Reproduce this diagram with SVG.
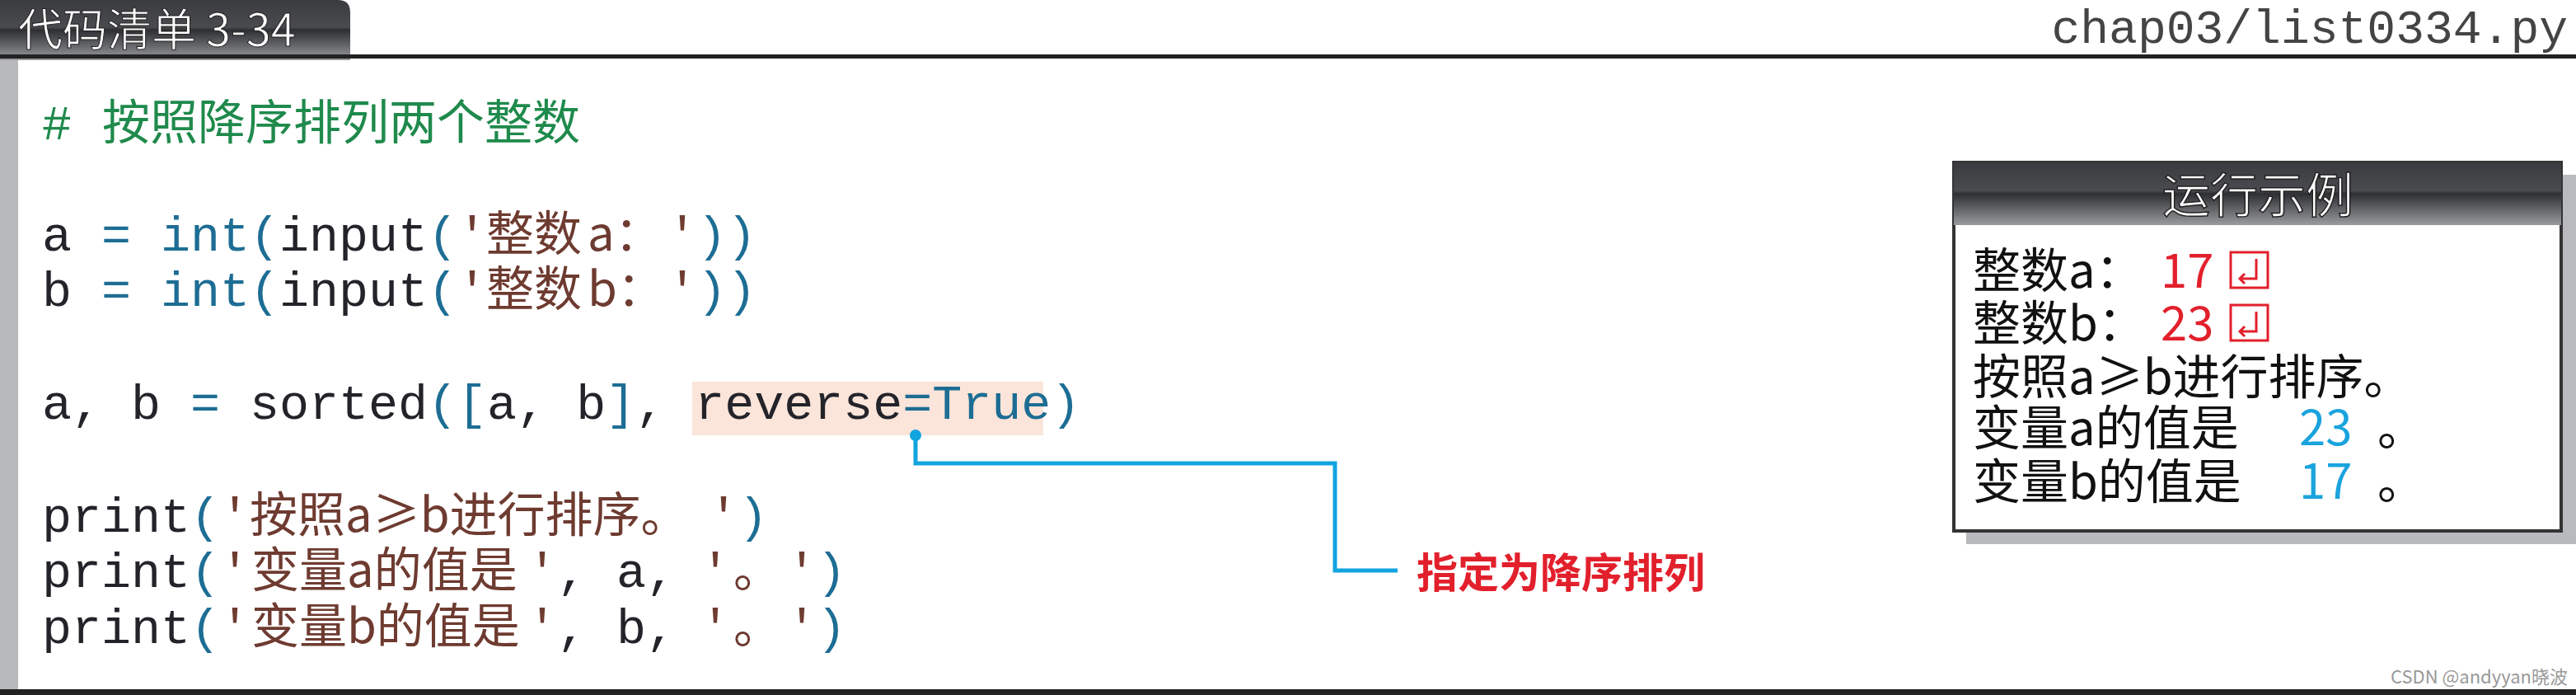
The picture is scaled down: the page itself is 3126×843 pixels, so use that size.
<svg xmlns="http://www.w3.org/2000/svg" width="3126" height="843" viewBox="0 0 3126 843">
<defs>
<linearGradient id="tab" x1="0" y1="0" x2="0" y2="1">
<stop offset="0" stop-color="#3a3b3e"/><stop offset="0.45" stop-color="#4a4b4f"/><stop offset="0.5" stop-color="#2e2f32"/><stop offset="1" stop-color="#9a9b9e"/>
</linearGradient>
<style>
.m{font-family:"Liberation Mono","Noto Sans CJK SC",monospace;font-size:60px}
.c{font-family:"Noto Sans CJK SC",sans-serif;font-size:58px}
.k{fill:#23232a}.t{fill:#1d6d94}.s{fill:#6e3b30}.g{fill:#1f8a4c}
.o{font-family:"Noto Sans CJK SC",sans-serif;font-size:58px;fill:#111}
</style>
</defs>
<rect width="3126" height="843" fill="#fff"/>
<g id="header">
<path d="M0 0H410Q425 0 425 15V73H0Z" fill="url(#tab)"/>
<text x="22" y="56" font-family="Noto Sans CJK SC,sans-serif" font-size="54" fill="#fff" stroke="#222" stroke-width="1">代码清单 3-34</text>
<text x="3116" y="52" text-anchor="end" font-family="Liberation Mono,monospace" font-size="58" fill="#444">chap03/list0334.py</text>
<rect x="0" y="66" width="3126" height="5" fill="#222"/>
<rect x="0" y="73" width="22" height="765" fill="#b8b9bc"/>
<rect x="0" y="836" width="3126" height="7" fill="#222"/>
</g>
<g id="code">
<rect x="840" y="463" width="426" height="65" fill="#fbe4d9"/>
<text class="m g" x="51" y="169">#</text>
<text class="c g" x="124" y="169" font-size="59">按照降序排列两个整数</text>

<text class="m" y="304"><tspan class="k" x="51">a</tspan><tspan class="t" x="123">=</tspan><tspan class="t" x="195">int(</tspan><tspan class="k">input</tspan><tspan class="t">(</tspan><tspan class="s">'</tspan></text>
<text class="c s" y="304"><tspan x="590">整数</tspan><tspan x="713">a：</tspan></text>
<text class="m" y="304"><tspan class="s" x="810">'</tspan><tspan class="t" x="846">))</tspan></text>

<text class="m" y="371"><tspan class="k" x="51">b</tspan><tspan class="t" x="123">=</tspan><tspan class="t" x="195">int(</tspan><tspan class="k">input</tspan><tspan class="t">(</tspan><tspan class="s">'</tspan></text>
<text class="c s" y="371"><tspan x="590">整数</tspan><tspan x="713">b：</tspan></text>
<text class="m" y="371"><tspan class="s" x="810">'</tspan><tspan class="t" x="846">))</tspan></text>

<text class="m" y="508" xml:space="preserve"><tspan class="k" x="51">a, b </tspan><tspan class="t">=</tspan><tspan class="k"> sorted</tspan><tspan class="t">([</tspan><tspan class="k">a, b</tspan><tspan class="t">]</tspan><tspan class="k">, reverse</tspan><tspan class="t">=True)</tspan></text>

<text class="m" y="645"><tspan class="k" x="51">print</tspan><tspan class="t">(</tspan><tspan class="s">'</tspan><tspan class="s" x="860">'</tspan><tspan class="t">)</tspan></text>
<text class="c s" y="645"><tspan x="303">按照a≥b进行排序。</tspan></text>

<text class="m" y="712"><tspan class="k" x="51">print</tspan><tspan class="t">(</tspan><tspan class="s">'</tspan><tspan class="s" x="640">'</tspan><tspan class="k">,</tspan><tspan class="k" x="748">a,</tspan><tspan class="s" x="850">'</tspan><tspan class="s" x="955">'</tspan><tspan class="t">)</tspan></text>
<text class="c s" y="712"><tspan x="305">变量a的值是</tspan><tspan x="890">。</tspan></text>

<text class="m" y="780"><tspan class="k" x="51">print</tspan><tspan class="t">(</tspan><tspan class="s">'</tspan><tspan class="s" x="640">'</tspan><tspan class="k">,</tspan><tspan class="k" x="748">b,</tspan><tspan class="s" x="850">'</tspan><tspan class="s" x="955">'</tspan><tspan class="t">)</tspan></text>
<text class="c s" y="780"><tspan x="305">变量b的值是</tspan><tspan x="890">。</tspan></text>
</g>
<g id="connectors">
<circle cx="1111" cy="528" r="7" fill="#12a4e0"/>
<path d="M1111 528V562H1620V692H1696" fill="none" stroke="#12a4e0" stroke-width="5"/>
</g>
<g id="label">
<text x="1719" y="713" font-family="Noto Sans CJK SC,sans-serif" font-weight="bold" font-size="50" fill="#e2202c">指定为降序排列</text>
</g>
<g id="run-example">
<rect x="2386" y="212" width="740" height="448" fill="#b9babd"/>
<rect x="2371" y="197" width="737" height="447" fill="#fff" stroke="#333" stroke-width="4"/>
<rect x="2371" y="197" width="737" height="76" fill="url(#tab)"/>
<text x="2740" y="258" text-anchor="middle" font-family="Noto Sans CJK SC,sans-serif" font-size="58" fill="#fff" stroke="#222" stroke-width="1.5">运行示例</text>
<text class="o" x="2394" y="349">整数a：<tspan fill="#e2202c" x="2622">17</tspan></text>
<rect x="2707" y="306" width="45" height="43" fill="none" stroke="#e2202c" stroke-width="3"/>
<path d="M2738 314V338H2718M2724 332L2718 338L2724 344" fill="none" stroke="#e2202c" stroke-width="3"/>
<text class="o" x="2394" y="413">整数b：<tspan fill="#e2202c" x="2622">23</tspan></text>
<rect x="2707" y="370" width="45" height="43" fill="none" stroke="#e2202c" stroke-width="3"/>
<path d="M2738 378V402H2718M2724 396L2718 402L2724 408" fill="none" stroke="#e2202c" stroke-width="3"/>
<text class="o" x="2394" y="478">按照a≥b进行排序。</text>
<text class="o" x="2394" y="540">变量a的值是<tspan fill="#1aa3dd" x="2790">23</tspan><tspan x="2885">。</tspan></text>
<text class="o" x="2394" y="605">变量b的值是<tspan fill="#1aa3dd" x="2790">17</tspan><tspan x="2885">。</tspan></text>
</g>
<text x="3116" y="829" text-anchor="end" font-family="Noto Sans CJK SC,sans-serif" font-size="22" fill="#999">CSDN @andyyan晓波</text>
</svg>
